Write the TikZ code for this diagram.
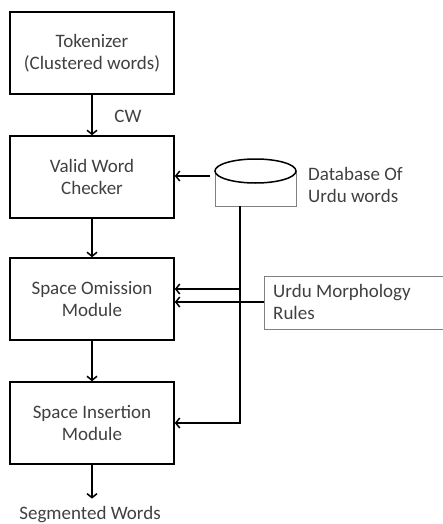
\documentclass[tikz,border=0pt]{standalone}
\usepackage{fontspec}
\setmainfont{Carlito}
\usetikzlibrary{arrows.meta}
\definecolor{txt}{RGB}{64,64,64}
\definecolor{thin}{RGB}{128,128,128}
\begin{document}
\begin{tikzpicture}[x=1pt,y=-1pt,
  box/.style={draw=black, line width=1.6pt, minimum width=164pt, minimum height=82pt,
    inner sep=0pt, align=center, text=txt, font=\fontsize{19}{22}\selectfont},
  lbl/.style={text=txt, inner sep=0pt, align=left, font=\fontsize{19}{22}\selectfont},
  arr/.style={line width=1.5pt, -{Straight Barb[length=4pt,width=10pt]}},
  thinbox/.style={draw=thin, line width=0.9pt}]
\useasboundingbox (0,0) rectangle (443,524);
\node[box] (tok) at (92,53) {Tokenizer\\(Clustered words)};
\node[box] (vwc) at (92,177) {Valid Word\\Checker};
\node[box] (som) at (92,299) {Space Omission\\Module};
\node[box] (sin) at (92,423) {Space Insertion\\Module};
\node[lbl, anchor=base] (seg) at (90,519) {Segmented Words};
\node[lbl, anchor=base] (cw) at (128,122) {CW};
% database cylinder
\node[inner sep=0pt, minimum width=81pt, minimum height=47pt] (db) at (255.5,182.5) {};
\draw[thinbox] (215,171) -- (215,206) -- (296,206) -- (296,171);
\draw[line width=1.5pt] (255.5,171) ellipse [x radius=40.5pt, y radius=12pt];
\node[lbl, anchor=west] (dbl) at (308,184.5) {Database Of\\Urdu words};
% morphology rules
\node[thinbox, inner sep=0pt, minimum width=184pt, minimum height=53pt, anchor=north west] (mr) at (264,276) {};
\node[lbl, anchor=west] (mrl) at (273,302) {Urdu Morphology\\Rules};
% connectors
\draw[arr] (tok) -- (vwc);
\draw[arr] (vwc) -- (som);
\draw[arr] (som) -- (sin);
\draw[arr, shorten >=7pt] (sin.south) -- (sin.south |- seg.north);
\coordinate (d0) at (210,176);
\draw[arr] (d0) -- (vwc.east |- d0);
\coordinate (dbb) at (240,206);
\coordinate (j1) at (240,289);
\draw[arr] (dbb) |- (sin.east);
\draw[arr] (j1) -- (som.east |- j1);
\coordinate (m1) at (264,302);
\draw[arr] (mr.west |- m1) -- (som.east |- m1);
\end{tikzpicture}
\end{document}
